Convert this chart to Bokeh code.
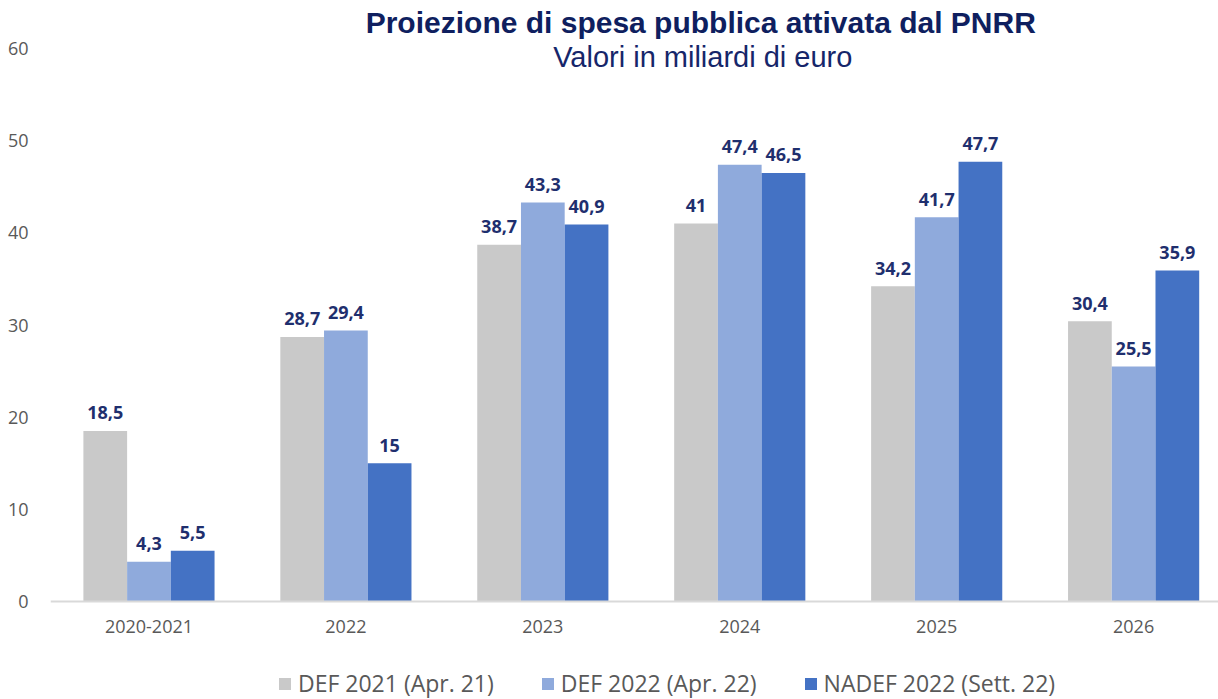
from bokeh.plotting import figure
from bokeh.models import Range1d, FixedTicker, Legend, LegendItem, ColumnDataSource, Label
from bokeh.core.properties import value
from bokeh.transform import dodge
from bokeh.embed import file_html
from bokeh.resources import INLINE

categories = ["2020-2021", "2022", "2023", "2024", "2025", "2026"]
def_2021 = [18.5, 28.7, 38.7, 41, 34.2, 30.4]
def_2022 = [4.3, 29.4, 43.3, 47.4, 41.7, 25.5]
nadef_2022 = [5.5, 15, 40.9, 46.5, 47.7, 35.9]
series_names = ["DEF 2021 (Apr. 21)", "DEF 2022 (Apr. 22)", "NADEF 2022 (Sett. 22)"]
y_ticks = [0, 10, 20, 30, 40, 50, 60]
title_text = "Proiezione di spesa pubblica attivata dal PNRR"
subtitle_text = "Valori in miliardi di euro"

colors = ["#C9C9C9", "#8FAADC", "#4472C4"]
offsets = [-0.222, 0.0, 0.222]
bar_w = 0.222

PX = 553 / 60.0  # pixels per unit


def fmt(v):
    return f"{v:g}".replace(".", ",")


p = figure(width=1218, height=699, output_backend="svg", toolbar_location=None,
           x_range=Range1d(-0.5, 5.431),
           y_range=Range1d(-(699 - 601) / PX, 601 / PX),
           min_border_left=50, min_border_right=0, min_border_top=0, min_border_bottom=0)
p.outline_line_color = None
p.background_fill_color = "white"
p.border_fill_color = "white"
p.xgrid.visible = False
p.ygrid.visible = False

series = [def_2021, def_2022, nadef_2022]
items = []
for vals, name, col, off in zip(series, series_names, colors, offsets):
    src = ColumnDataSource(dict(x=list(range(len(categories))), y=vals,
                                lab=[fmt(v) for v in vals]))
    r = p.vbar(x=dodge("x", off), top="y", width=bar_w, source=src,
               fill_color=col, line_color=None)
    p.text(x=dodge("x", off), y="y", text="lab", source=src,
           text_font=value("Open Sans"), text_font_style="bold",
           text_font_size="18px", text_color="#1F2F6E",
           text_align="center", text_baseline="alphabetic", y_offset=-18)
    items.append(LegendItem(label=name, renderers=[r]))

# axes
p.xaxis.fixed_location = 0
p.xaxis.ticker = FixedTicker(ticks=list(range(len(categories))))
p.xaxis.major_label_overrides = {i: c for i, c in enumerate(categories)}
p.xaxis.axis_line_color = "#D9D9D9"
p.xaxis.axis_line_width = 2
p.xaxis.major_tick_line_color = None
p.xaxis.minor_tick_line_color = None
p.xaxis.major_label_text_font = "Open Sans"
p.xaxis.major_label_text_font_size = "18px"
p.xaxis.major_label_text_color = "#595959"
p.xaxis.major_label_standoff = 12

p.yaxis.ticker = FixedTicker(ticks=y_ticks)
p.yaxis.axis_line_color = None
p.yaxis.major_tick_line_color = None
p.yaxis.minor_tick_line_color = None
p.yaxis.major_label_text_font = "Open Sans"
p.yaxis.major_label_text_font_size = "18px"
p.yaxis.major_label_text_color = "#595959"
p.yaxis.major_label_standoff = 16

# titles
p.add_layout(Label(x=(700 - 148) / 197, y=(601 - 22) / PX, text=title_text,
                   text_font="Liberation Sans", text_font_style="bold",
                   text_font_size="30px", text_color="#0F1F5F",
                   text_align="center", text_baseline="middle"))
p.add_layout(Label(x=(702 - 148) / 197, y=(601 - 56) / PX, text=subtitle_text,
                   text_font="Liberation Sans", text_font_size="29px",
                   text_color="#16266A", text_align="center", text_baseline="middle"))

legend = Legend(items=items, orientation="horizontal", location=(227, 0),
                glyph_width=15, glyph_height=15, label_standoff=6, spacing=46,
                label_text_font="Open Sans", label_text_font_size="23px",
                label_text_color="#595959", border_line_color=None,
                background_fill_alpha=0, padding=0, margin=0)
p.add_layout(legend, "center")

open("out.html", "w").write(file_html(p, INLINE))
